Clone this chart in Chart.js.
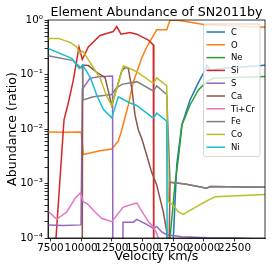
<!DOCTYPE html>
<html>
<head>
<meta charset="utf-8">
<script src="https://cdn.jsdelivr.net/npm/chart.js@4.4.0/dist/chart.umd.min.js"></script>
<style>
  html, body { margin: 0; padding: 0; background: #fff; }
  canvas { display: block; }
</style>
</head>
<body>
<canvas id="abundance" width="274" height="274"></canvas>
<script>
const elements = ['C', 'O', 'Ne', 'Si', 'S', 'Ca', 'Ti+Cr', 'Fe', 'Co', 'Ni'];
const colors = ['#1f77b4', '#ff7f0e', '#2ca02c', '#d62728', '#9467bd',
                '#8c564b', '#e377c2', '#7f7f7f', '#bcbd22', '#17becf'];

// velocity (km/s) and abundance per element
const cVel = [7300, 17400, 17512, 17790, 18197, 18873, 19550, 20096, 20234, 20544, 21500, 24986];
const cAbund = [1e-8, 1e-8, 1e-4, 0.0022, 0.0118, 0.034, 0.071, 0.12, 0.149, 0.118, 0.13, 0.148];
const oVel = [7300, 8686, 10000, 10177, 11538, 12492, 12761, 13029, 13307, 13844, 14252, 14937, 15344, 15752, 16159, 16974, 17243, 17919, 20096, 24986];
const oAbund = [0.0088, 0.0087, 0.0088, 0.0034, 0.004, 0.0043, 0.0051, 0.006, 0.0096, 0.0276, 0.073, 0.2, 0.32, 0.46, 0.66, 0.66, 1.0, 0.99, 0.82, 0.74];
const neVel = [7300, 17100, 17243, 17650, 17919, 18221, 18873, 19550, 20234, 20772, 24986];
const neAbund = [1e-8, 1e-8, 1e-4, 1e-3, 0.0029, 0.012, 0.0276, 0.052, 0.074, 0.085, 0.092];
const siVel = [7300, 7952, 8604, 8954, 9362, 9827, 10095, 10584, 11538, 12353, 12622, 12899, 13250, 13983, 14529, 15475, 15882, 15923, 24986];
const siAbund = [1e-7, 1e-4, 0.0147, 0.030, 0.079, 0.32, 0.19, 0.32, 0.52, 0.59, 0.615, 0.76, 0.55, 0.59, 0.55, 0.43, 0.35, 1e-7, 1e-7];
const sVel = [7300, 8547, 9990, 10100, 10723, 11399, 12560, 12600, 13331, 13413, 14252, 14529, 15344, 15882, 16159, 16566, 16974, 18197, 20234, 22541, 24986];
const sAbund = [1.74e-4, 1.7e-4, 1.74e-4, 0.054, 0.085, 0.091, 0.094, 1e-7, 1e-7, 1.95e-4, 1.95e-4, 2.2e-4, 1.78e-4, 1.5e-4, 1.62e-4, 1.3e-4, 1.15e-4, 1.05e-4, 1.01e-4, 1e-4, 9.5e-5];
const caVel = [7300, 10050, 10128, 10584, 11269, 11946, 12214, 12492, 13307, 13576, 13844, 14146, 14391, 14660, 14937, 15344, 15752, 16159, 16289, 16697, 16974, 17104, 17243, 18466, 20234, 20503, 24986];
const caAbund = [1e-8, 1e-8, 0.149, 0.146, 0.11, 0.088, 0.05, 0.027, 0.116, 0.134, 0.13, 0.052, 0.018, 0.0096, 0.0067, 0.0033, 0.0016, 9.4e-4, 7.1e-4, 3.0e-4, 1.3e-4, 1e-5, 1.05e-3, 9.8e-4, 8.2e-4, 8.8e-4, 8.5e-4];
const tiCrVel = [7300, 8009, 8824, 9500, 9949, 10177, 10479, 11131, 11677, 12492, 13437, 14529, 15067, 15475, 15882, 16159, 16346, 16800, 24986];
const tiCrAbund = [3.14e-4, 2.2e-4, 3.0e-4, 5.3e-4, 6.8e-4, 4.6e-4, 4.3e-4, 3.0e-4, 2.3e-4, 2.0e-4, 3.7e-4, 4.4e-4, 2.8e-4, 2.0e-4, 1.6e-4, 1.22e-4, 9e-5, 1e-7, 1e-7];
const feVel = [7300, 9362, 9908, 10112, 10153, 10992, 12492, 12842, 13331, 14529, 15882, 16159, 16974, 17243, 18466, 20234, 20503, 24986];
const feAbund = [0.22, 0.18, 0.137, 0.13, 0.034, 0.039, 0.043, 0.056, 0.066, 0.074, 0.050, 0.062, 0.043, 1.05e-3, 9.8e-4, 8.2e-4, 8.8e-4, 8.5e-4];
const coVel = [7300, 8139, 9093, 9639, 9908, 10095, 10177, 11538, 12084, 12492, 13437, 13844, 14529, 15882, 16159, 16974, 17104, 17512, 17919, 18327, 18873, 20234, 20911, 24986];
const coAbund = [0.46, 0.46, 0.39, 0.32, 0.245, 0.27, 0.26, 0.086, 0.04, 0.027, 0.143, 0.133, 0.112, 0.069, 0.087, 0.062, 4.6e-4, 4e-4, 3e-4, 2.7e-4, 3.2e-4, 4.8e-4, 5.7e-4, 6.3e-4];
const niVel = [7300, 9232, 9639, 9851, 10112, 10723, 11269, 11807, 12492, 13029, 13983, 14529, 15882, 16159, 16974, 17050, 24986];
const niAbund = [0.30, 0.198, 0.149, 0.13, 0.15, 0.091, 0.042, 0.023, 0.016, 0.039, 0.030, 0.027, 0.0158, 0.0195, 0.014, 1e-7, 1e-7];

const xTicks = [7500, 10000, 12500, 15000, 17500, 20000, 22500];
const yDecades = [1e-4, 1e-3, 1e-2, 1e-1, 1];
const yTickLabels = ['10⁻⁴', '10⁻³', '10⁻²', '10⁻¹', '10⁰'];

const series = [
    [cVel, cAbund], [oVel, oAbund], [neVel, neAbund], [siVel, siAbund], [sVel, sAbund],
    [caVel, caAbund], [tiCrVel, tiCrAbund], [feVel, feAbund], [coVel, coAbund], [niVel, niAbund],
];

// minor log ticks between the decades
const yTicks = [];
yDecades.forEach((d, i) => {
    if (i === yDecades.length - 1) { yTicks.push(d); return; }
    for (let m = 1; m < 10; m++) yTicks.push(d * m);
});

const frameAndLegend = {
    id: 'frameAndLegend',
    afterDraw(chart) {
        const { ctx, chartArea: a } = chart;
        ctx.save();
        ctx.strokeStyle = '#000';
        ctx.lineWidth = 0.8;
        ctx.strokeRect(a.left, a.top, a.right - a.left, a.bottom - a.top);

        // legend box, top right inside the axes
        const bx = 203.5, by = 24, bw = 56.5, bh = 132.5;
        ctx.beginPath();
        ctx.roundRect(bx, by, bw, bh, 2);
        ctx.fillStyle = 'rgba(255,255,255,0.8)';
        ctx.fill();
        ctx.strokeStyle = '#cccccc';
        ctx.lineWidth = 0.8;
        ctx.stroke();

        ctx.font = '8.5px "DejaVu Sans"';
        ctx.textBaseline = 'middle';
        ctx.fillStyle = '#000';
        elements.forEach((name, i) => {
            const y = 32 + i * 12.8;
            ctx.beginPath();
            ctx.moveTo(206.5, y);
            ctx.lineTo(225, y);
            ctx.strokeStyle = colors[i];
            ctx.lineWidth = 1.5;
            ctx.stroke();
            ctx.fillText(name, 231, y + 0.5);
        });
        ctx.restore();
    },
};

Chart.defaults.color = '#000';
Chart.defaults.font.family = '"DejaVu Sans"';

new Chart(document.getElementById('abundance'), {
    type: 'line',
    data: {
        datasets: elements.map((name, i) => ({
            label: name,
            data: series[i][0].map((v, j) => ({ x: v, y: series[i][1][j] })),
            borderColor: colors[i],
            backgroundColor: colors[i],
            borderWidth: 1.5,
            pointRadius: 0,
            tension: 0,
            fill: false,
            order: -i,
        })),
    },
    options: {
        responsive: false,
        animation: false,
        layout: { padding: { left: 0, right: 9, top: 0, bottom: 0 } },
        scales: {
            x: {
                type: 'linear',
                min: 7300,
                max: 24980,
                afterFit: (scale) => { scale.height = 36; },
                afterBuildTicks: (scale) => { scale.ticks = xTicks.map((v) => ({ value: v })); },
                ticks: {
                    autoSkip: false,
                    maxRotation: 0,
                    minRotation: 0,
                    padding: 1,
                    font: { size: 10.4 },
                    callback: (v) => String(v),
                },
                grid: { drawOnChartArea: false, tickLength: 3.5, color: '#000', tickWidth: 0.8 },
                border: { color: '#000', width: 0.8 },
                title: {
                    display: true,
                    text: 'Velocity km/s',
                    font: { size: 12.6 },
                    padding: { top: 0, bottom: 9.5 },
                },
            },
            y: {
                type: 'logarithmic',
                min: 1e-4,
                max: 1,
                afterFit: (scale) => { scale.width = 48; },
                afterBuildTicks: (scale) => { scale.ticks = yTicks.map((v) => ({ value: v })); },
                ticks: {
                    autoSkip: false,
                    padding: 1.5,
                    font: { size: 10.4 },
                    callback: (v) => {
                        const k = yDecades.findIndex((d) => Math.abs(d - v) / d < 1e-6);
                        return k >= 0 ? yTickLabels[k] : '';
                    },
                },
                grid: { drawOnChartArea: false, tickLength: 3.5, color: '#000', tickWidth: 0.8 },
                border: { color: '#000', width: 0.8 },
                title: {
                    display: true,
                    text: 'Abundance (ratio)',
                    font: { size: 12.6 },
                    padding: { top: 5.5, bottom: 0 },
                },
            },
        },
        plugins: {
            legend: { display: false },
            tooltip: { enabled: false },
            title: {
                display: true,
                text: 'Element Abundance of SN2011by',
                fullSize: false,
                font: { size: 12.6, weight: 'normal' },
                color: '#000',
                padding: { top: 4.7, bottom: 0.2 },
            },
        },
    },
    plugins: [frameAndLegend],
});
</script>
</body>
</html>
